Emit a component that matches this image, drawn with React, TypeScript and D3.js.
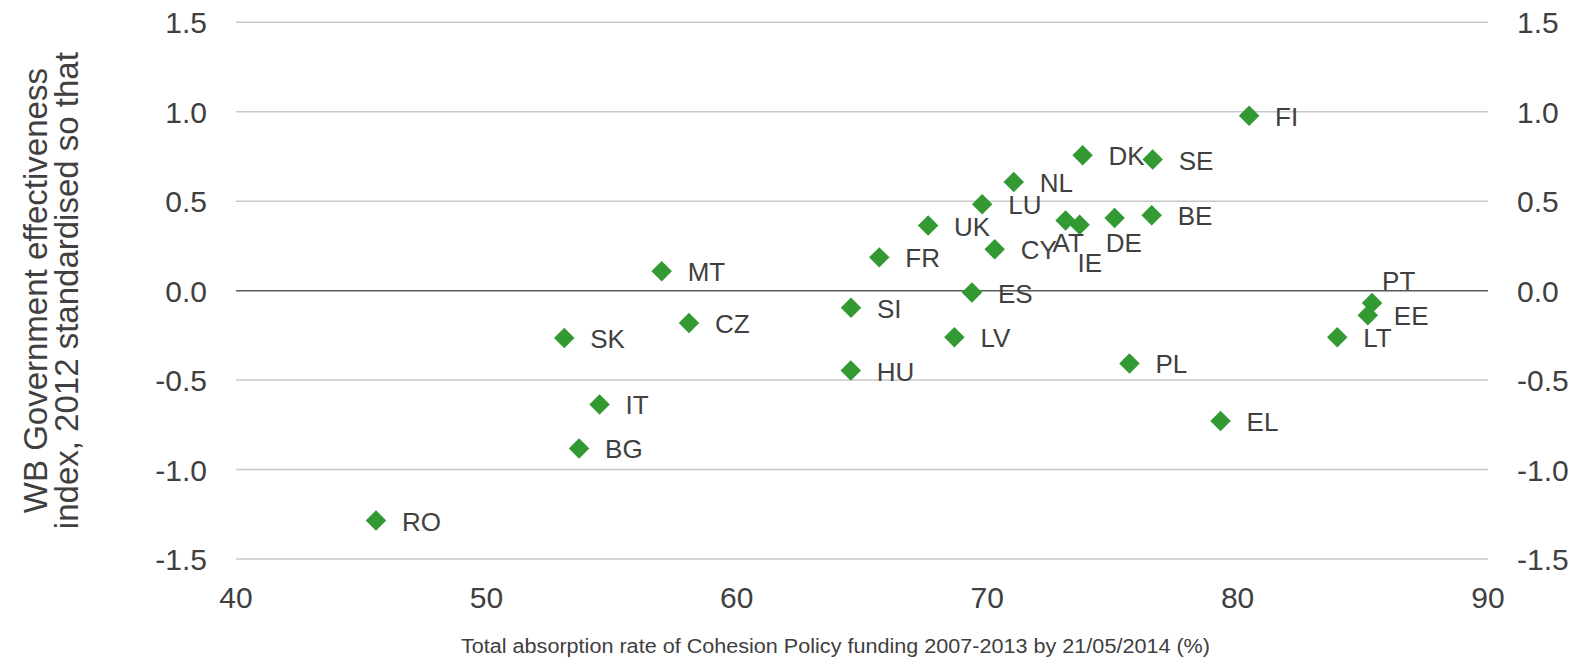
import React, { useEffect, useRef } from "react";
import * as d3 from "d3";

// Country codes, absorption rate (%) and WB government effectiveness (standardised)
const countries = ["RO", "SK", "BG", "IT", "MT", "CZ", "HU", "SI", "FR", "UK", "LV", "ES", "LU", "CY", "NL", "AT", "IE", "DK", "DE", "PL", "BE", "SE", "EL", "FI", "LT", "EE", "PT"];
const absorption = [45.59, 53.11, 53.70, 54.52, 57.00, 58.09, 64.55, 64.56, 65.69, 67.64, 68.69, 69.39, 69.80, 70.30, 71.06, 73.13, 73.69, 73.81, 75.09, 75.68, 76.57, 76.61, 79.32, 80.46, 83.98, 85.20, 85.37];
const effectiveness = [-1.285, -0.265, -0.882, -0.636, 0.108, -0.181, -0.447, -0.095, 0.186, 0.364, -0.261, -0.011, 0.483, 0.231, 0.607, 0.392, 0.369, 0.757, 0.406, -0.407, 0.421, 0.733, -0.729, 0.977, -0.261, -0.138, -0.069];

const xTicks = [40, 50, 60, 70, 80, 90];
const yTicks = [-1.5, -1.0, -0.5, 0.0, 0.5, 1.0, 1.5];

const yTitleLines = ["WB Government effectiveness", "index, 2012 standardised so that"];
const xTitle = "Total absorption rate of Cohesion Policy funding 2007-2013 by 21/05/2014 (%)";

// label placement tweaks for crowded points (default is right of marker)
const labelOffsets: { [k: string]: [number, number] } = {
  AT: [-13, 31],
  IE: [-2, 47],
  DE: [-9, 34],
  PT: [10, -13],
};

const W = 1585;
const H = 662;

// Excel-style labels use a plain hyphen for negatives
const fmt = (v: number) => v.toFixed(1);

const App: React.FC = () => {
  const svgRef = useRef<SVGSVGElement>(null);

  useEffect(() => {
    if (!svgRef.current) return;
    const svg = d3.select(svgRef.current);
    svg.selectAll("*").remove();

    const margin = { left: 236, right: W - 1488, top: 22.3, bottom: H - 559 };
    const font = "'Liberation Sans', Arial, sans-serif";
    const textColor = "#404040";

    const x = d3.scaleLinear().domain([40, 90]).range([margin.left, W - margin.right]);
    const y = d3.scaleLinear().domain([-1.5, 1.5]).range([H - margin.bottom, margin.top]);

    // gridlines
    svg.append("g")
      .selectAll("line")
      .data(yTicks)
      .join("line")
      .attr("x1", x(40))
      .attr("x2", x(90))
      .attr("y1", d => y(d))
      .attr("y2", d => y(d))
      .attr("stroke", d => (d === 0 ? "#595959" : "#c8c8c8"))
      .attr("stroke-width", 1.5);

    // left and right y tick labels
    svg.append("g")
      .selectAll("text")
      .data(yTicks)
      .join("text")
      .attr("x", 207)
      .attr("y", d => y(d) + 11)
      .attr("text-anchor", "end")
      .text(d => fmt(d));

    svg.append("g")
      .selectAll("text")
      .data(yTicks)
      .join("text")
      .attr("x", 1517)
      .attr("y", d => y(d) + 11)
      .attr("text-anchor", "start")
      .text(d => fmt(d));

    // x tick labels
    svg.append("g")
      .selectAll("text")
      .data(xTicks)
      .join("text")
      .attr("x", d => x(d))
      .attr("y", 608)
      .attr("text-anchor", "middle")
      .text(d => d);

    svg.selectAll("text")
      .attr("font-family", font)
      .attr("font-size", 30)
      .attr("fill", textColor);

    // axis titles
    const yTitle = svg.append("text")
      .attr("transform", `translate(0,${(margin.top + H - margin.bottom) / 2}) rotate(-90)`)
      .attr("text-anchor", "middle")
      .attr("font-family", font)
      .attr("font-size", 33)
      .attr("fill", textColor);
    yTitleLines.forEach((line, i) => {
      yTitle.append("tspan").attr("x", 0).attr("y", 47 + i * 31).text(line);
    });

    svg.append("text")
      .attr("x", 461)
      .attr("y", 653)
      .attr("font-family", font)
      .attr("font-size", 20)
      .attr("fill", textColor)
      .attr("textLength", 749)
      .attr("lengthAdjust", "spacingAndGlyphs")
      .text(xTitle);

    // points
    const pts = countries.map((c, i) => ({ c, x: absorption[i], y: effectiveness[i] }));
    const diamond = d3.symbol().type(d3.symbolSquare).size(210);

    svg.append("g")
      .selectAll("path")
      .data(pts)
      .join("path")
      .attr("d", diamond)
      .attr("transform", d => `translate(${x(d.x)},${y(d.y)}) rotate(45)`)
      .attr("fill", "#339933");

    svg.append("g")
      .selectAll("text")
      .data(pts)
      .join("text")
      .attr("x", d => x(d.x) + (labelOffsets[d.c] ? labelOffsets[d.c][0] : 26))
      .attr("y", d => y(d.y) + (labelOffsets[d.c] ? labelOffsets[d.c][1] : 10))
      .attr("font-family", font)
      .attr("font-size", 26)
      .attr("fill", textColor)
      .text(d => d.c);
  }, []);

  return (
    <svg
      ref={svgRef}
      width={W}
      height={H}
      style={{ position: "absolute", left: 0, top: 0, background: "white", display: "block" }}
    />
  );
};

export default App;
